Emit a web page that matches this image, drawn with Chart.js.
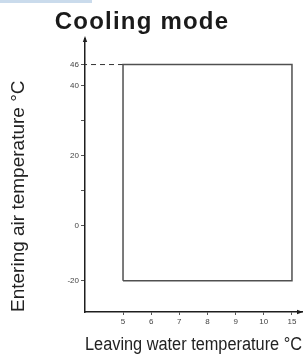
<!DOCTYPE html>
<html>
<head>
<meta charset="utf-8">
<script src="https://cdn.jsdelivr.net/npm/chart.js@4.4.1/dist/chart.umd.min.js"></script>
<style>
  body { margin: 0; background: #fff; }
  canvas { display: block; }
</style>
</head>
<body>
<canvas id="grafico" width="306" height="356"></canvas>
<script>
// dati del diagramma (limiti di funzionamento)
var titolo = 'Cooling mode';
var titoloX = 'Leaving water temperature °C';
var titoloY = 'Entering air temperature °C';

var xTicks = [5, 6, 7, 8, 9, 10, 15];          // acqua uscita, °C
var yTicks = [-20, 0, 10, 20, 30, 40, 46];     // aria ingresso, °C
var yLabels = ['-20', '0', '', '20', '', '40', '46'];

var limiteX = [5, 5, 15, 15, 5];               // contorno della zona di lavoro
var limiteY = [-20, 46, 46, -20, -20];
var guidaX = [5, 3.65];                        // tratteggio fino all'asse
var guidaY = [46, 46];

// l'asse x ha passo costante per categoria, l'asse y sotto lo zero e' compresso
var assi = {
  x: { reale: xTicks, disegno: [0, 1, 2, 3, 4, 5, 6], min: 3.65, max: 16.78 },
  y: { reale: [-20, 0, 46], disegno: [-15.71, 0, 46], min: -31.4, max: 53.3 }
};

function piega(da, a, v) {   // interpolazione a tratti tra i punti di riferimento
  var i = 0;
  while (i < da.length - 2 && v > da[i + 1]) i++;
  var t = (v - da[i]) / (da[i + 1] - da[i]);
  return a[i] + t * (a[i + 1] - a[i]);
}

class ScalaPiegata extends Chart.LinearScale {
  determineDataLimits() {
    var s = assi[this.id];
    this.min = piega(s.reale, s.disegno, s.min);
    this.max = piega(s.reale, s.disegno, s.max);
  }
  buildTicks() {
    var v = this.id === 'x' ? xTicks : yTicks;
    return v.map(function(n) { return { value: n }; });
  }
  getPixelForValue(v) {
    var s = assi[this.id];
    return super.getPixelForValue(piega(s.reale, s.disegno, v));
  }
  getValueForPixel(p) {
    var s = assi[this.id];
    return piega(s.disegno, s.reale, super.getValueForPixel(p));
  }
}
ScalaPiegata.id = 'piegata';
ScalaPiegata.defaults = Chart.LinearScale.defaults;
Chart.register(ScalaPiegata);

Chart.defaults.font.family = "'Liberation Sans', Arial, sans-serif";

var decorazioni = {   // titolo, frecce degli assi e filetto azzurro in alto
  id: 'decorazioni',
  afterDraw: function(chart) {
    var ctx = chart.ctx, a = chart.chartArea;
    ctx.save();
    ctx.fillStyle = '#cadbec';
    ctx.fillRect(0, 0, 92, 3);
    ctx.fillStyle = '#1e1e1e';
    ctx.beginPath();   // freccia asse y
    ctx.moveTo(a.left, a.top - 3);
    ctx.lineTo(a.left - 2.2, a.top + 3);
    ctx.lineTo(a.left + 2.2, a.top + 3);
    ctx.fill();
    ctx.beginPath();   // freccia asse x
    ctx.moveTo(a.right + 1, a.bottom);
    ctx.lineTo(a.right - 5, a.bottom - 2.2);
    ctx.lineTo(a.right - 5, a.bottom + 2.2);
    ctx.fill();
    ctx.font = "bold 24px 'Liberation Sans', Arial, sans-serif";
    ctx.letterSpacing = '1.2px';
    ctx.textAlign = 'center';
    ctx.textBaseline = 'alphabetic';
    ctx.fillStyle = '#1a1a1a';
    ctx.fillText(titolo, 142, 28.5);
    ctx.restore();
  }
};

new Chart(document.getElementById('grafico'), {
  type: 'line',
  data: {
    datasets: [
      {
        data: limiteX.map(function(x, i) { return { x: x, y: limiteY[i] }; }),
        borderColor: '#505050',
        borderWidth: 1.5,
        pointRadius: 0,
        fill: false,
        tension: 0
      },
      {
        data: guidaX.map(function(x, i) { return { x: x, y: guidaY[i] }; }),
        borderColor: '#333',
        borderWidth: 1,
        borderDash: [5, 4],
        pointRadius: 0,
        fill: false
      }
    ]
  },
  options: {
    responsive: false,
    animation: false,
    layout: { padding: { left: 7, right: 4, top: 39, bottom: 0 } },
    plugins: { legend: { display: false }, tooltip: { enabled: false } },
    scales: {
      x: {
        type: 'piegata',
        min: assi.x.min,
        max: assi.x.max,
        afterFit: function(s) { s.height = 44; },
        border: { display: true, color: '#1e1e1e', width: 1.5 },
        grid: { drawOnChartArea: false, drawTicks: true, tickLength: 3, tickColor: '#555' },
        ticks: {
          autoSkip: false, maxRotation: 0, padding: 2,
          color: '#444', font: { size: 8 },
          callback: function(v) { return String(v); }
        },
        title: { display: true, text: titoloX, align: 'end', color: '#222', font: { size: 18 }, padding: 0 }
      },
      y: {
        type: 'piegata',
        min: assi.y.min,
        max: assi.y.max,
        afterFit: function(s) { s.width = 78; },
        border: { display: true, color: '#1e1e1e', width: 1.5 },
        grid: { drawOnChartArea: false, drawTicks: true, tickLength: 4, tickColor: '#555' },
        ticks: {
          autoSkip: false, padding: 2,
          color: '#444', font: { size: 8 },
          callback: function(v, i) { return yLabels[i]; }
        },
        title: { display: true, text: titoloY, align: 'start', color: '#222', font: { size: 19 }, padding: 0 }
      }
    }
  },
  plugins: [decorazioni]
});
</script>
</body>
</html>
